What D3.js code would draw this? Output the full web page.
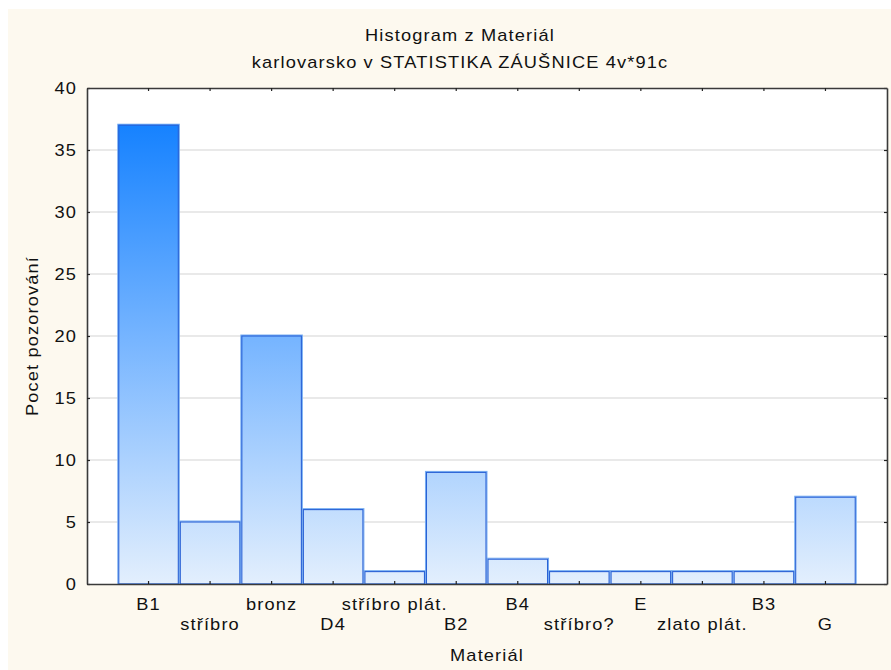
<!DOCTYPE html>
<html><head><meta charset="utf-8">
<script src="https://cdn.jsdelivr.net/npm/d3@7"></script>
<style>body{margin:0;background:#fff}svg{display:block;font-family:"Liberation Sans",Arial,sans-serif}</style>
</head><body><svg id="c" width="891" height="670"></svg>
<script>
const categories = ["B1","stříbro","bronz","D4","stříbro plát.","B2","B4","stříbro?","E","zlato plát.","B3","G"];
const counts = [37,5,20,6,1,9,2,1,1,1,1,7];
const yTicks = [0,5,10,15,20,25,30,35,40];
const titleLines = ["Histogram z Materiál","karlovarsko v STATISTIKA ZÁUŠNICE 4v*91c"];
const xTitle = "Materiál", yTitle = "Pocet pozorování";

const svg = d3.select("#c");
svg.append("rect").attr("x",8).attr("y",9).attr("width",883).attr("height",661).attr("fill","#fdf9ef");
const L=87,T=88,R=887,B=584;
svg.append("rect").attr("x",L).attr("y",T).attr("width",R-L).attr("height",B-T).attr("fill","#fff");

const x = d3.scaleBand().domain(categories).range([L,R]).paddingInner(0).paddingOuter(0.5);
const y = d3.scaleLinear().domain([0,40]).range([B,T]);

const defs = svg.append("defs");
const g = defs.append("linearGradient").attr("id","gr").attr("gradientUnits","userSpaceOnUse")
  .attr("x1",0).attr("x2",0).attr("y1",y(37)).attr("y2",y(0));
g.append("stop").attr("offset",0).attr("stop-color","#1682ff");
g.append("stop").attr("offset",0.45).attr("stop-color","#73b3ff");
g.append("stop").attr("offset",1).attr("stop-color","#e3effd");

const SX = 1.14, LS = 1.0, FS = 16;
function label(sel, xx, yy, txt, anchor, rot){
  return sel.append("text")
    .attr("transform",`translate(${xx},${yy})${rot?` rotate(${rot})`:""} scale(${SX},1)`)
    .attr("text-anchor",anchor||"middle").attr("font-size",FS).attr("letter-spacing",LS)
    .attr("fill","#111").text(txt);
}

// gridlines
svg.append("g").selectAll("line").data(yTicks.filter(d=>d>0&&d<40)).join("line")
  .attr("x1",L).attr("x2",R).attr("y1",d=>y(d)).attr("y2",d=>y(d))
  .attr("stroke","#e2e2e2").attr("stroke-width",1.5);

// bars
const bars = svg.append("g");
bars.selectAll("rect.o").data(counts).join("rect").attr("class","o")
  .attr("x",(d,i)=>x(categories[i])).attr("y",d=>y(d)-1)
  .attr("width",x.bandwidth()).attr("height",d=>B-y(d)+1)
  .attr("fill","url(#gr)").attr("stroke","#7ab0f2").attr("stroke-width",1);
bars.selectAll("rect.i").data(counts).join("rect").attr("class","i")
  .attr("x",(d,i)=>x(categories[i])+1).attr("y",d=>y(d))
  .attr("width",x.bandwidth()-2).attr("height",d=>B-y(d))
  .attr("fill","none").attr("stroke","#2a62d6").attr("stroke-width",1.1);

// axes (inward ticks)
const axL = d3.axisLeft(y).tickValues(yTicks).tickSizeInner(-3).tickSizeOuter(0).tickFormat("");
svg.append("g").attr("transform",`translate(${L},0)`).call(axL);
const axR = d3.axisRight(y).tickValues(yTicks).tickSizeInner(-3).tickSizeOuter(0).tickFormat("");
svg.append("g").attr("transform",`translate(${R},0)`).call(axR);
const axT = d3.axisTop(x).tickSizeInner(-3).tickSizeOuter(0).tickFormat("");
svg.append("g").attr("transform",`translate(0,${T})`).call(axT);
const axB = d3.axisBottom(x).tickSizeInner(-3).tickSizeOuter(0).tickFormat("");
svg.append("g").attr("transform",`translate(0,${B})`).call(axB);
svg.selectAll(".domain").attr("stroke","#3a3a3a").attr("stroke-width",1.6);
svg.selectAll(".tick line").attr("stroke","#222").attr("stroke-width",1.2);

// y tick labels
const yl = svg.append("g");
yTicks.forEach(t=>label(yl, 77, y(t)+6, String(t), "end"));

// category labels, staggered
const xl = svg.append("g");
categories.forEach((c,i)=>label(xl, x(c)+x.bandwidth()/2, i%2===0?610:630, c, "middle"));

// titles
const tg = svg.append("g");
titleLines.forEach((t,i)=>label(tg, 460, i===0?41:68, t, "middle"));
label(svg, 487, 661, xTitle, "middle");
label(svg, 38, 336, yTitle, "middle", -90);
</script></body></html>
